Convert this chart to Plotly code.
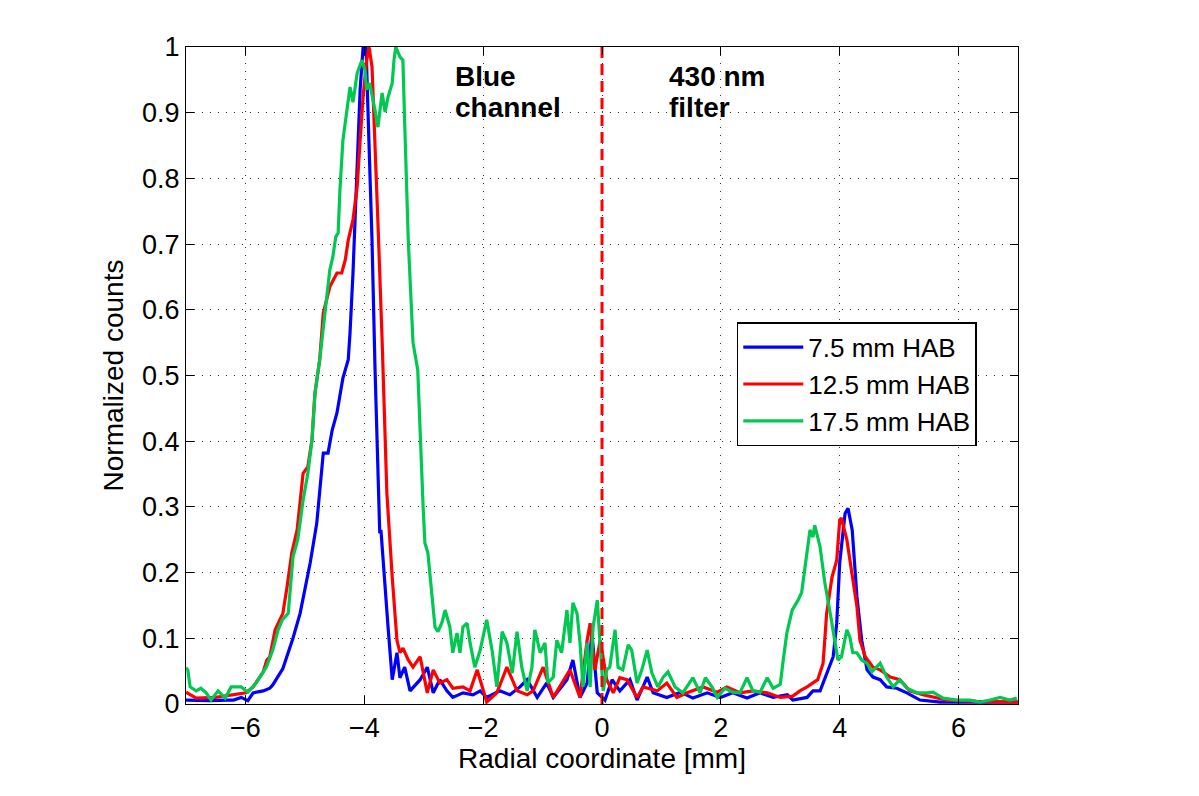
import plotly.graph_objects as go

# ---- data (x in mm, normalized counts) ----
blue_pts = [(-7.0, 0.006), (-6.6, 0.005), (-6.3, 0.006), (-6.2, 0.006), (-6.07, 0.01), (-5.96, 0.005),
            (-5.87, 0.017), (-5.7, 0.02), (-5.59, 0.024), (-5.54, 0.029), (-5.37, 0.054), (-5.2, 0.10),
            (-5.08, 0.138), (-4.91, 0.215), (-4.8, 0.275), (-4.75, 0.33), (-4.69, 0.382), (-4.61, 0.382),
            (-4.54, 0.417), (-4.46, 0.443), (-4.36, 0.496), (-4.27, 0.524), (-4.24, 0.565), (-4.19, 0.656),
            (-4.12, 0.808), (-4.07, 0.935), (-4.02, 1.0), (-3.97, 1.0), (-3.94, 0.909), (-3.87, 0.706),
            (-3.82, 0.513), (-3.77, 0.371), (-3.74, 0.26), (-3.72, 0.265), (-3.70, 0.239), (-3.65, 0.169),
            (-3.60, 0.117), (-3.53, 0.037), (-3.45, 0.078), (-3.40, 0.04), (-3.32, 0.056), (-3.23, 0.02),
            (-3.06, 0.037), (-2.94, 0.056), (-2.84, 0.017), (-2.73, 0.037), (-2.61, 0.02), (-2.51, 0.01),
            (-2.34, 0.017), (-2.17, 0.014), (-2.05, 0.02), (-1.94, 0.01), (-1.72, 0.02), (-1.55, 0.014),
            (-1.38, 0.026), (-1.26, 0.037), (-1.09, 0.01), (-0.93, 0.032), (-0.82, 0.01), (-0.59, 0.037),
            (-0.49, 0.067), (-0.37, 0.01), (-0.25, 0.032), (-0.17, 0.108), (-0.08, 0.017), (0.05, 0.006),
            (0.17, 0.037), (0.30, 0.02), (0.47, 0.037), (0.59, 0.006), (0.76, 0.041), (0.86, 0.017),
            (1.09, 0.01), (1.32, 0.018), (1.53, 0.009), (1.77, 0.017), (1.99, 0.01), (2.20, 0.017),
            (2.44, 0.009), (2.66, 0.017), (2.88, 0.01), (3.12, 0.014), (3.21, 0.006), (3.45, 0.01),
            (3.55, 0.02), (3.67, 0.02), (3.78, 0.047), (3.89, 0.072), (3.95, 0.123), (4.0, 0.215),
            (4.09, 0.29), (4.14, 0.298), (4.21, 0.265), (4.29, 0.163), (4.37, 0.097), (4.46, 0.052),
            (4.56, 0.041), (4.68, 0.037), (4.79, 0.026), (4.96, 0.024), (5.13, 0.017), (5.35, 0.006),
            (5.69, 0.003), (6.2, 0.003), (6.6, 0.004), (7.0, 0.003)]

red_pts = [(-7.0, 0.018), (-6.83, 0.009), (-6.5, 0.01), (-6.2, 0.014), (-5.99, 0.017), (-5.87, 0.026),
           (-5.70, 0.049), (-5.64, 0.067), (-5.59, 0.072), (-5.50, 0.113), (-5.42, 0.128), (-5.37, 0.138),
           (-5.30, 0.178), (-5.22, 0.23), (-5.13, 0.265), (-5.08, 0.31), (-5.03, 0.351), (-4.95, 0.361),
           (-4.88, 0.402), (-4.83, 0.473), (-4.75, 0.524), (-4.69, 0.595), (-4.58, 0.635), (-4.46, 0.656),
           (-4.38, 0.656), (-4.32, 0.676), (-4.27, 0.706), (-4.19, 0.737), (-4.12, 0.787), (-4.07, 0.858),
           (-4.02, 0.924), (-3.96, 0.98), (-3.92, 1.0), (-3.87, 0.97), (-3.82, 0.858), (-3.77, 0.732),
           (-3.70, 0.554), (-3.62, 0.321), (-3.53, 0.193), (-3.45, 0.097), (-3.40, 0.078), (-3.35, 0.085),
           (-3.26, 0.067), (-3.18, 0.056), (-3.06, 0.072), (-2.94, 0.017), (-2.84, 0.052), (-2.73, 0.032),
           (-2.61, 0.037), (-2.51, 0.024), (-2.34, 0.026), (-2.22, 0.02), (-2.10, 0.052), (-1.94, 0.003),
           (-1.77, 0.017), (-1.60, 0.056), (-1.43, 0.02), (-1.26, 0.014), (-1.16, 0.02), (-0.99, 0.056),
           (-0.82, 0.01), (-0.71, 0.026), (-0.54, 0.052), (-0.37, 0.01), (-0.25, 0.097), (-0.20, 0.123),
           (-0.12, 0.052), (-0.03, 0.097), (0.08, 0.037), (0.19, 0.017), (0.30, 0.04), (0.42, 0.037),
           (0.59, 0.01), (0.69, 0.026), (0.93, 0.02), (1.09, 0.032), (1.26, 0.01), (1.43, 0.017),
           (1.70, 0.026), (1.94, 0.018), (2.10, 0.026), (2.32, 0.017), (2.54, 0.02), (2.78, 0.017),
           (3.0, 0.01), (3.21, 0.012), (3.33, 0.02), (3.45, 0.026), (3.55, 0.032), (3.63, 0.037),
           (3.72, 0.062), (3.78, 0.138), (3.87, 0.193), (3.95, 0.219), (4.0, 0.28), (4.03, 0.283),
           (4.12, 0.25), (4.21, 0.199), (4.29, 0.148), (4.34, 0.097), (4.43, 0.072), (4.56, 0.056),
           (4.68, 0.052), (4.85, 0.041), (5.01, 0.037), (5.18, 0.02), (5.40, 0.014), (5.80, 0.006),
           (6.3, 0.004), (7.0, 0.003)]

green_pts = [(-7.0, 0.055), (-6.97, 0.052), (-6.93, 0.026), (-6.83, 0.02), (-6.75, 0.024), (-6.66, 0.017),
             (-6.58, 0.006), (-6.46, 0.02), (-6.34, 0.009), (-6.24, 0.026), (-6.07, 0.026), (-5.96, 0.018),
             (-5.82, 0.032), (-5.65, 0.056), (-5.54, 0.082), (-5.45, 0.113), (-5.38, 0.128), (-5.28, 0.138),
             (-5.20, 0.224), (-5.12, 0.25), (-5.03, 0.31), (-4.95, 0.351), (-4.88, 0.402), (-4.83, 0.473),
             (-4.75, 0.524), (-4.66, 0.595), (-4.58, 0.661), (-4.53, 0.68), (-4.48, 0.711), (-4.44, 0.717),
             (-4.41, 0.782), (-4.36, 0.858), (-4.29, 0.909), (-4.24, 0.939), (-4.19, 0.916), (-4.12, 0.96),
             (-4.04, 0.98), (-3.99, 0.965), (-3.96, 0.935), (-3.91, 0.945), (-3.82, 0.904), (-3.77, 0.878),
             (-3.70, 0.93), (-3.65, 0.901), (-3.60, 0.924), (-3.53, 0.945), (-3.50, 0.98), (-3.47, 1.0),
             (-3.40, 0.985), (-3.35, 0.98), (-3.32, 0.884), (-3.26, 0.706), (-3.18, 0.55), (-3.10, 0.508),
             (-3.01, 0.30), (-2.98, 0.245), (-2.93, 0.23), (-2.86, 0.169), (-2.81, 0.117), (-2.76, 0.11),
             (-2.69, 0.125), (-2.64, 0.143), (-2.56, 0.117), (-2.51, 0.078), (-2.44, 0.108), (-2.39, 0.078),
             (-2.34, 0.117), (-2.27, 0.123), (-2.22, 0.093), (-2.14, 0.056), (-2.05, 0.082), (-1.94, 0.128),
             (-1.85, 0.082), (-1.77, 0.026), (-1.68, 0.11), (-1.60, 0.093), (-1.51, 0.047), (-1.43, 0.11),
             (-1.35, 0.056), (-1.26, 0.02), (-1.18, 0.056), (-1.13, 0.113), (-1.04, 0.078), (-0.96, 0.093),
             (-0.91, 0.032), (-0.82, 0.041), (-0.76, 0.097), (-0.68, 0.078), (-0.59, 0.143), (-0.54, 0.093),
             (-0.49, 0.154), (-0.42, 0.138), (-0.37, 0.093), (-0.32, 0.026), (-0.25, 0.093), (-0.20, 0.026),
             (-0.15, 0.117), (-0.08, 0.158), (-0.03, 0.093), (0.02, 0.02), (0.08, 0.052), (0.13, 0.056),
             (0.22, 0.113), (0.27, 0.056), (0.35, 0.052), (0.44, 0.09), (0.50, 0.082), (0.59, 0.032),
             (0.67, 0.052), (0.76, 0.082), (0.84, 0.047), (0.94, 0.026), (1.03, 0.041), (1.11, 0.049),
             (1.23, 0.026), (1.36, 0.017), (1.53, 0.04), (1.65, 0.017), (1.74, 0.04), (1.85, 0.026),
             (1.94, 0.01), (2.07, 0.024), (2.20, 0.018), (2.32, 0.017), (2.44, 0.04), (2.54, 0.02),
             (2.66, 0.018), (2.78, 0.04), (2.88, 0.024), (3.0, 0.03), (3.05, 0.067), (3.11, 0.108),
             (3.20, 0.143), (3.30, 0.158), (3.36, 0.17), (3.42, 0.215), (3.50, 0.265), (3.55, 0.254),
             (3.58, 0.272), (3.67, 0.239), (3.75, 0.184), (3.84, 0.138), (3.92, 0.093), (3.97, 0.067),
             (4.03, 0.072), (4.12, 0.113), (4.17, 0.102), (4.22, 0.078), (4.29, 0.078), (4.37, 0.067),
             (4.46, 0.062), (4.54, 0.049), (4.68, 0.062), (4.79, 0.041), (4.90, 0.026), (5.01, 0.037),
             (5.13, 0.024), (5.30, 0.017), (5.47, 0.017), (5.57, 0.018), (5.74, 0.009), (5.97, 0.006),
             (6.19, 0.006), (6.36, 0.003), (6.53, 0.006), (6.70, 0.01), (6.86, 0.006), (6.98, 0.009)]

series_names = ["7.5 mm HAB", "12.5 mm HAB", "17.5 mm HAB"]
series_colors = ["#0000FF", "#FF0000", "#00C850"]
divider_x = [0, 0]
divider_y = [0, 1]
x_ticks = [-6, -4, -2, 0, 2, 4, 6]
y_ticks = [0, 0.1, 0.2, 0.3, 0.4, 0.5, 0.6, 0.7, 0.8, 0.9, 1]
y_tick_text = ["0", "0.1", "0.2", "0.3", "0.4", "0.5", "0.6", "0.7", "0.8", "0.9", "1"]
label_lines_left = ["Blue", "channel"]
label_lines_right = ["430 nm", "filter"]

FONT = "Liberation Sans, Arial, Helvetica, sans-serif"
FS_TICK = 27
FS_TITLE = 28
FS_LEG = 26

fig = go.Figure()
for pts, name, color in zip([blue_pts, red_pts, green_pts], series_names, series_colors):
    xs, ys = zip(*pts)
    fig.add_trace(go.Scatter(x=list(xs), y=list(ys), mode="lines", name=name,
                             line=dict(color=color, width=3.2)))

fig.add_trace(go.Scatter(x=divider_x, y=divider_y, mode="lines", showlegend=False,
                         line=dict(color="#FF0000", width=3, dash="11px,6px")))

line_y = [0.982, 0.935]
for xpos, lines in [(-2.5, label_lines_left), (1.1, label_lines_right)]:
    for yy, txt in zip(line_y, lines):
        fig.add_annotation(x=xpos, y=yy, xref="x", yref="y", xanchor="left", yanchor="top",
                           text="<b>" + txt + "</b>", showarrow=False, align="left",
                           font=dict(size=28, color="black", family=FONT))

axis_common = dict(showline=True, linecolor="black", linewidth=1, mirror="ticks",
                   ticks="inside", ticklen=8, tickcolor="black", automargin=False,
                   showgrid=True, gridcolor="#333333", gridwidth=1, griddash="1px,7px",
                   zeroline=False, tickfont=dict(size=FS_TICK, color="black", family=FONT))

fig.update_xaxes(range=[-7, 7], tickvals=x_ticks,
                 title=dict(text="Radial coordinate [mm]", font=dict(size=FS_TITLE, color="black", family=FONT),
                            standoff=4),
                 **axis_common)
fig.update_yaxes(range=[0, 1], tickvals=y_ticks, ticktext=y_tick_text,
                 title=dict(text="Normalized counts", font=dict(size=FS_TITLE, color="black", family=FONT),
                            standoff=10),
                 **axis_common)

fig.update_layout(
    width=1199, height=796,
    margin=dict(l=186, r=181, t=47, b=92),
    plot_bgcolor="white", paper_bgcolor="white",
    font=dict(family=FONT, size=FS_TICK, color="black"),
    legend=dict(x=0.662, y=0.581, xanchor="left", yanchor="top",
                bordercolor="black", borderwidth=1.5, bgcolor="white",
                font=dict(size=FS_LEG, family=FONT, color="black"),
                tracegroupgap=0, itemwidth=60),
)

fig.write_html("out.html")
